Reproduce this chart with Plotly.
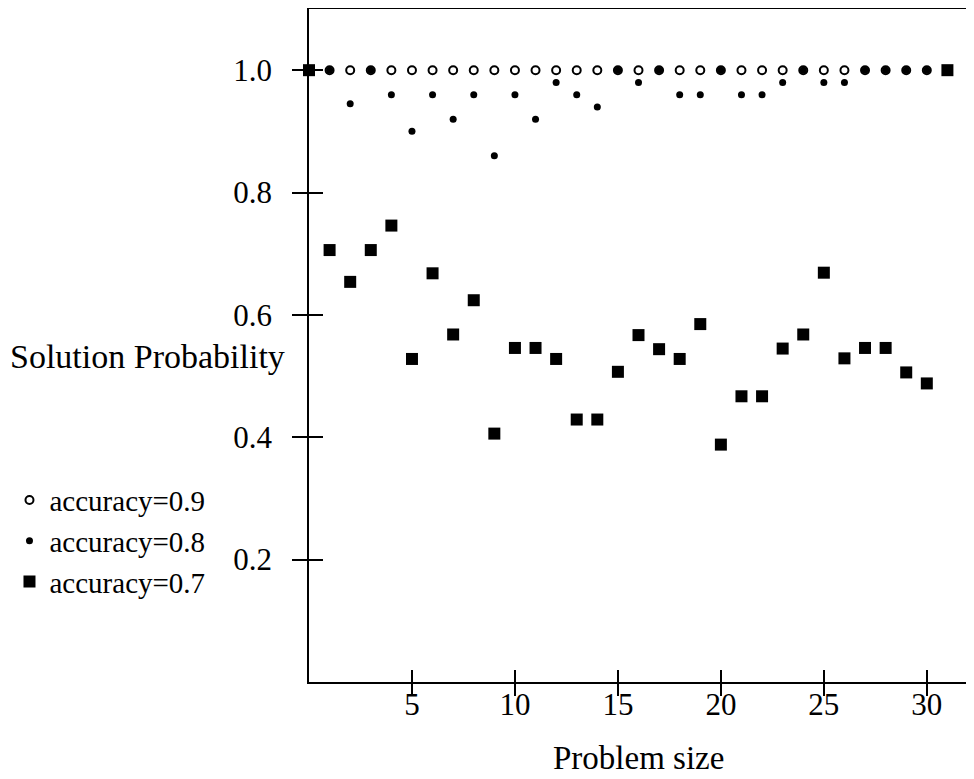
import plotly.graph_objects as go

# ---- data ----
problem_size = list(range(0, 32))

acc09 = [1.0] * 32

acc08 = [1.0, 1.0, 0.945, 1.0, 0.96, 0.90, 0.96, 0.92, 0.96, 0.86,
         0.96, 0.92, 0.98, 0.96, 0.94, 1.0, 0.98, 1.0, 0.96, 0.96,
         1.0, 0.96, 0.96, 0.98, 1.0, 0.98, 0.98, 1.0, 1.0, 1.0,
         1.0, 1.0]

acc07 = [1.0, 0.706, 0.654, 0.706, 0.746, 0.528, 0.668, 0.568, 0.624, 0.406,
         0.546, 0.546, 0.528, 0.429, 0.429, 0.507, 0.567, 0.544, 0.528, 0.585,
         0.388, 0.467, 0.467, 0.545, 0.568, 0.669, 0.529, 0.546, 0.546, 0.506,
         0.488, 1.0]

x_ticks = [5, 10, 15, 20, 25, 30]
y_ticks = [0.2, 0.4, 0.6, 0.8, 1.0]
y_tick_text = ["0.2", "0.4", "0.6", "0.8", "1.0"]
x_range = [0, 32]
y_range = [0, 1.1]

FONT = "Liberation Serif"

fig = go.Figure()

fig.add_trace(go.Scatter(
    x=problem_size, y=acc09, mode="markers", name="accuracy=0.9",
    marker=dict(symbol="circle-open", size=8, color="black", line=dict(width=2, color="black")),
    cliponaxis=False,
))
fig.add_trace(go.Scatter(
    x=problem_size, y=acc08, mode="markers", name="accuracy=0.8",
    marker=dict(symbol="circle", size=7, color="black"),
    cliponaxis=False,
))
fig.add_trace(go.Scatter(
    x=problem_size, y=acc07, mode="markers", name="accuracy=0.7",
    marker=dict(symbol="square", size=12, color="black"),
    cliponaxis=False,
))
# helper trace for the inner halves of the crossing tick marks
fig.add_trace(go.Scatter(x=[], y=[], xaxis="x2", yaxis="y2", showlegend=False, hoverinfo="skip"))

axis_common = dict(showgrid=False, zeroline=False, color="black", automargin=False)

fig.update_layout(
    width=966, height=771,
    margin=dict(l=301, r=6, t=1, b=97),
    paper_bgcolor="white", plot_bgcolor="white",
    font=dict(family=FONT, size=32, color="black"),
    showlegend=True,
    legend=dict(
        x=-0.4545, y=0.308, xanchor="left", yanchor="top",
        font=dict(family=FONT, size=29, color="black"),
        bgcolor="rgba(0,0,0,0)", borderwidth=0, tracegroupgap=0,
    ),
    xaxis=dict(
        range=x_range, tickvals=x_ticks, ticktext=[str(v) for v in x_ticks],
        ticks="outside", ticklen=12, tickwidth=1.5, tickcolor="black",
        showline=True, linecolor="black", linewidth=1.5, mirror=True,
        tickfont=dict(family=FONT, size=31, color="black"),
        ticklabelstandoff=-18,
        **axis_common,
    ),
    yaxis=dict(
        range=y_range, tickvals=y_ticks, ticktext=y_tick_text,
        ticks="outside", ticklen=15, tickwidth=1.5, tickcolor="black",
        showline=True, linecolor="black", linewidth=1.5, mirror=True,
        tickfont=dict(family=FONT, size=31, color="black"),
        ticklabelstandoff=14,
        **axis_common,
    ),
    xaxis2=dict(
        overlaying="x", anchor="y", range=x_range, tickvals=x_ticks,
        ticks="inside", ticklen=12, tickwidth=1.5, tickcolor="black",
        showticklabels=False, showline=False, **axis_common,
    ),
    yaxis2=dict(
        overlaying="y", anchor="x", range=y_range, tickvals=y_ticks,
        ticks="inside", ticklen=14, tickwidth=1.5, tickcolor="black",
        showticklabels=False, showline=False, **axis_common,
    ),
    annotations=[
        dict(
            text="Solution Probability", xref="paper", yref="paper",
            x=-0.0334, y=0.483, xanchor="right", yanchor="middle",
            showarrow=False, font=dict(family=FONT, size=34, color="black"),
        ),
        dict(
            text="Problem size", xref="paper", yref="paper",
            x=0.5, y=-0.113, xanchor="center", yanchor="middle",
            showarrow=False, font=dict(family=FONT, size=33, color="black"),
        ),
    ],
)

fig.write_html("out.html")
